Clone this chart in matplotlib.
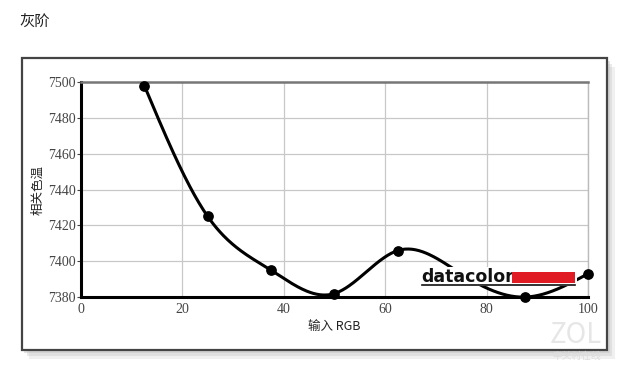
import numpy as np
import matplotlib
matplotlib.use("Agg")
import matplotlib.pyplot as plt
from matplotlib.patches import Rectangle

plt.rcParams['font.family'] = ['Noto Sans CJK SC', 'DejaVu Sans']

x_vals = [12.5, 25, 37.5, 50, 62.5, 75, 87.5, 100]
y_vals = [7498, 7425, 7395, 7382, 7406, 7393, 7380, 7393]
x_ticks = [0, 20, 40, 60, 80, 100]
y_ticks = [7380, 7400, 7420, 7440, 7460, 7480, 7500]
title = "灰阶"
xlabel = "输入 RGB"
ylabel = "相关色温"


def natural_spline(x, y, xs):
    x = np.asarray(x, float); y = np.asarray(y, float)
    n = len(x)
    h = np.diff(x)
    A = np.zeros((n, n)); b = np.zeros(n)
    A[0, 0] = 1; A[-1, -1] = 1
    for i in range(1, n - 1):
        A[i, i - 1] = h[i - 1]
        A[i, i] = 2 * (h[i - 1] + h[i])
        A[i, i + 1] = h[i]
        b[i] = 3 * ((y[i + 1] - y[i]) / h[i] - (y[i] - y[i - 1]) / h[i - 1])
    c = np.linalg.solve(A, b)
    out = np.empty_like(xs)
    for k, xv in enumerate(xs):
        i = min(max(np.searchsorted(x, xv) - 1, 0), n - 2)
        dx = xv - x[i]
        bi = (y[i + 1] - y[i]) / h[i] - h[i] * (2 * c[i] + c[i + 1]) / 3
        di = (c[i + 1] - c[i]) / (3 * h[i])
        out[k] = y[i] + bi * dx + c[i] * dx ** 2 + di * dx ** 3
    return out


fig = plt.figure(figsize=(6.4, 3.7), dpi=100)
fig.patch.set_facecolor('white')

# framed panel with soft shadow
for k, a in enumerate([0.25, 0.35, 0.45]):
    off = 0.004 * (3 - k)
    fig.patches.append(Rectangle((0.034 + off, 0.054 - 2 * off), 0.915, 0.789,
                                 transform=fig.transFigure, facecolor='#c4c4c4',
                                 edgecolor='none', zorder=0, alpha=a))
fig.patches.append(Rectangle((0.034, 0.054), 0.915, 0.789, transform=fig.transFigure,
                             facecolor='white', edgecolor='#444444', linewidth=1.6, zorder=1))

fig.text(0.031, 0.94, title, fontsize=11, color='#222222', ha='left', va='center')

ax = fig.add_axes([0.1266, 0.197, 0.792, 0.581])
ax.set_zorder(2)
ax.set_facecolor('white')
ax.set_xlim(0, 100)
ax.set_ylim(7380, 7500)
ax.set_xticks(x_ticks)
ax.set_yticks(y_ticks)
ax.grid(True, color='#c8c8c8', linewidth=0.9)
ax.set_axisbelow(True)
for s in ['left', 'bottom']:
    ax.spines[s].set_linewidth(2.2)
    ax.spines[s].set_color('black')
ax.spines['top'].set_color('#777777')
ax.spines['top'].set_linewidth(1.8)
ax.spines['right'].set_color('#bbbbbb')
ax.spines['right'].set_linewidth(1.0)
ax.tick_params(axis='y', length=3, width=0.8, labelsize=10, colors='#444444', pad=1)
ax.tick_params(axis='x', length=0, labelsize=10, colors='#444444', pad=4)
for lbl in ax.get_xticklabels() + ax.get_yticklabels():
    lbl.set_family(['Liberation Serif', 'DejaVu Serif'])

xs = np.linspace(x_vals[0], x_vals[-1], 400)
ys = natural_spline(x_vals, y_vals, xs)
ax.plot(xs, ys, color='black', linewidth=2.2, clip_on=False, zorder=3)
ax.scatter(x_vals, y_vals, s=45, color='black', clip_on=False, zorder=4)

ax.set_xlabel(xlabel, fontsize=9, color='#222222', labelpad=3)
ax.set_ylabel(ylabel, fontsize=9, color='#222222', labelpad=2)

# datacolor logo
ax.add_patch(Rectangle((0.668, 0.05), 0.31, 0.092, transform=ax.transAxes,
                       facecolor='white', edgecolor='none', zorder=5))
ax.text(0.672, 0.072, "datacolor", transform=ax.transAxes, fontsize=12.5,
        fontweight='bold', family=['DejaVu Sans'], color='#111111',
        ha='left', va='baseline', zorder=6)
ax.add_patch(Rectangle((0.85, 0.065), 0.124, 0.052, transform=ax.transAxes,
                       facecolor='#e01b24', edgecolor='none', zorder=6))
ax.plot([0.672, 0.974], [0.058, 0.058], transform=ax.transAxes, color='#111111',
        linewidth=1.2, zorder=6)

# watermark
fig.text(0.90, 0.095, "ZOL", fontsize=20, color='#e6e6e6', ha='center', va='center', zorder=3)
fig.text(0.90, 0.038, "中关村在线", fontsize=7, color='#dddddd', ha='center', va='center', zorder=3)

fig.savefig("out.png", dpi=100, facecolor='white')
